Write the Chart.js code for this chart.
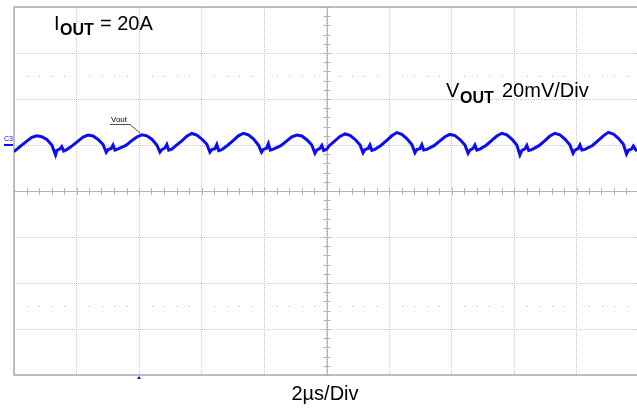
<!DOCTYPE html>
<html>
<head>
<meta charset="utf-8">
<script src="https://cdn.jsdelivr.net/npm/chart.js@4"></script>
<style>
  html, body { margin: 0; padding: 0; background: #fff; overflow: hidden; }
  #wrap { position: relative; width: 645px; height: 408px; }
</style>
</head>
<body>
<div id="wrap"><canvas id="scope"></canvas></div>
<script>
// scope screen: 10 div x 2us, 8 div x 20mV (trace ground marker at 0 mV)
const timeTicks = [0, 2, 4, 6, 8, 10, 12, 14, 16, 18, 20];
const voltTicks = [-100, -80, -60, -40, -20, 0, 20, 40, 60];

// Vout ripple (time in us, value in mV)
const timeUs = [
  0.00, 0.22, 0.41, 0.57, 0.73, 0.89, 1.05, 1.21, 1.33, 1.37, 1.47, 1.53, 1.59, 1.69,
  1.86, 2.05, 2.21, 2.37, 2.53, 2.69, 2.85, 2.95, 3.01, 3.11, 3.17, 3.23, 3.33,
  3.58, 3.77, 3.93, 4.09, 4.25, 4.41, 4.57, 4.67, 4.73, 4.83, 4.89, 4.95, 5.05,
  5.18, 5.37, 5.53, 5.69, 5.85, 6.01, 6.17, 6.27, 6.33, 6.43, 6.49, 6.55, 6.65,
  6.83, 7.02, 7.18, 7.34, 7.50, 7.66, 7.82, 7.92, 7.98, 8.08, 8.14, 8.20, 8.30,
  8.54, 8.73, 8.89, 9.05, 9.21, 9.37, 9.53, 9.63, 9.69, 9.79, 9.85, 9.91, 10.01,
  10.08, 10.27, 10.43, 10.59, 10.75, 10.91, 11.07, 11.17, 11.23, 11.33, 11.39, 11.45, 11.55,
  11.74, 11.93, 12.09, 12.25, 12.41, 12.57, 12.73, 12.83, 12.89, 12.99, 13.05, 13.11, 13.21,
  13.44, 13.63, 13.79, 13.95, 14.11, 14.27, 14.43, 14.53, 14.59, 14.69, 14.75, 14.81, 14.91,
  15.10, 15.29, 15.45, 15.61, 15.77, 15.93, 16.09, 16.19, 16.25, 16.35, 16.41, 16.47, 16.57,
  16.80, 16.99, 17.15, 17.31, 17.47, 17.63, 17.79, 17.89, 17.95, 18.05, 18.11, 18.17, 18.27,
  18.51, 18.70, 18.86, 19.02, 19.18, 19.34, 19.50, 19.60, 19.66, 19.76, 19.82, 19.90, 20.00
];
const voutMv = [
  -2.9, -0.4, 1.7, 3.3, 4.0, 3.6, 2.4, 0.0, -4.3, -2.4, -1.7, -0.7, -2.6, -2.0,
  -0.4, 1.7, 3.4, 4.3, 3.9, 2.4, 0.2, -3.2, -2.0, -1.5, 0.0, -2.2, -1.7,
  -0.2, 1.9, 3.5, 4.4, 4.0, 2.5, 0.0, -3.1, -2.0, -1.3, 0.2, -2.2, -1.8,
  -0.3, 1.8, 3.8, 5.0, 4.3, 2.6, 0.3, -3.1, -2.0, -1.6, 0.2, -2.4, -2.0,
  -0.2, 2.0, 4.0, 5.1, 4.4, 2.7, 0.0, -3.1, -1.9, -1.4, 0.6, -2.2, -1.8,
  -0.3, 1.8, 3.6, 4.3, 3.9, 2.3, 0.0, -3.6, -2.2, -1.5, -0.2, -2.4, -1.8,
  -0.4, 1.8, 3.7, 4.8, 4.2, 2.5, 0.1, -3.4, -2.0, -1.5, 0.0, -2.3, -1.9,
  -0.2, 2.0, 4.0, 5.4, 4.6, 2.8, 0.2, -3.4, -2.0, -1.6, 0.1, -2.2, -1.9,
  -0.3, 1.8, 3.6, 4.6, 4.1, 2.4, 0.0, -3.6, -2.2, -1.5, 0.0, -2.2, -1.8,
  -0.2, 2.0, 3.9, 5.1, 4.4, 2.6, 0.0, -4.3, -2.4, -1.7, -0.2, -2.4, -2.0,
  -0.3, 1.9, 3.9, 5.1, 4.4, 2.6, 0.0, -3.6, -2.2, -1.6, 0.0, -2.2, -1.9,
  -0.2, 2.0, 4.0, 5.5, 4.8, 2.9, 0.3, -3.9, -2.3, -1.8, -0.5, -2.2, -2.0
];

const centerTime = 10;   // middle of the screen
const centerVolt = -20;
const triggerTime = 4;
const dotRows = [30, -70];
const traceColor = "#0c0cf0";
const FONT = '"Liberation Sans", Arial, sans-serif';

// scope screen extras: solid centre axes with minor ticks, dot rows, frame
const scopeGrid = {
  id: "scopeGrid",
  beforeDatasetsDraw(chart) {
    const { ctx, chartArea: a, scales: { x, y } } = chart;
    const cx = x.getPixelForValue(centerTime);
    const cy = y.getPixelForValue(centerVolt);
    ctx.save();
    ctx.strokeStyle = "#b4b4b4";
    ctx.lineWidth = 1;
    ctx.beginPath();
    ctx.moveTo(Math.round(cx) + 0.5, a.top); ctx.lineTo(Math.round(cx) + 0.5, a.bottom);
    ctx.moveTo(a.left, Math.round(cy) + 0.5); ctx.lineTo(a.right, Math.round(cy) + 0.5);
    // minor ticks, 5 per division
    for (let v = voltTicks[0]; v <= voltTicks[voltTicks.length - 1]; v += 4) {
      const py = Math.round(y.getPixelForValue(v)) + 0.5;
      ctx.moveTo(cx - 3, py); ctx.lineTo(cx + 4, py);
    }
    for (let t = timeTicks[0]; t <= timeTicks[timeTicks.length - 1]; t += 0.4) {
      const px = Math.round(x.getPixelForValue(t)) + 0.5;
      ctx.moveTo(px, cy - 3); ctx.lineTo(px, cy + 4);
    }
    ctx.stroke();

    ctx.fillStyle = "#b8b8b8";
    dotRows.forEach(v => {
      const py = Math.round(y.getPixelForValue(v));
      for (let i = 1; i < 50; i++) {
        if (i % 5 === 0) continue;
        const px = Math.round(x.getPixelForValue(i * 0.4));
        ctx.fillRect(px, py, 1, 1);
      }
    });

    ctx.strokeStyle = "#adadad";
    ctx.lineWidth = 1.5;
    ctx.strokeRect(a.left, a.top, a.right - a.left, a.bottom - a.top);
    ctx.restore();
  },
  afterDraw(chart) {
    const { ctx, chartArea: a, scales: { x, y } } = chart;
    ctx.save();
    ctx.fillStyle = "#000";
    ctx.textBaseline = "alphabetic";
    // I_OUT = 20A
    ctx.font = "20px " + FONT;
    ctx.fillText("I", 54, 30);
    ctx.font = "bold 16px " + FONT;
    ctx.fillText("OUT", 60, 35);
    ctx.font = "20px " + FONT;
    ctx.fillText("= 20A", 100, 30);
    // V_OUT 20mV/Div
    ctx.fillText("V", 446, 97);
    ctx.font = "bold 16px " + FONT;
    ctx.fillText("OUT", 460, 103);
    ctx.font = "20px " + FONT;
    ctx.fillText("20mV/Div", 502, 97);
    // timebase
    ctx.textAlign = "center";
    ctx.fillText("2\u00b5s/Div", 325, 400);

    // trace label with leader
    ctx.textAlign = "left";
    ctx.font = "8px " + FONT;
    ctx.fillText("Vout", 111, 122);
    ctx.strokeStyle = "#222";
    ctx.lineWidth = 0.8;
    ctx.beginPath();
    ctx.moveTo(110, 124.5); ctx.lineTo(130, 124.5);
    ctx.lineTo(140, 133);
    ctx.stroke();

    // channel ground marker
    const gy = Math.round(y.getPixelForValue(0));
    ctx.fillStyle = traceColor;
    ctx.font = "7px " + FONT;
    ctx.fillText("C3", 4, 141);
    ctx.fillRect(4, gy - 1, 9, 2);

    // trigger marker
    const tx = x.getPixelForValue(triggerTime);
    ctx.beginPath();
    ctx.moveTo(tx, a.bottom + 1);
    ctx.lineTo(tx - 2, a.bottom + 4);
    ctx.lineTo(tx + 2, a.bottom + 4);
    ctx.closePath();
    ctx.fill();
    ctx.restore();
  }
};

new Chart(document.getElementById("scope"), {
  type: "line",
  data: {
    datasets: [{
      label: "Vout",
      data: timeUs.map((t, i) => ({ x: t, y: voutMv[i] })),
      borderColor: traceColor,
      borderWidth: 3,
      pointRadius: 0,
      tension: 0,
      fill: false
    }]
  },
  options: {
    responsive: true,
    maintainAspectRatio: false,
    animation: false,
    layout: { padding: { left: 14, top: 7, right: 6, bottom: 33 } },
    plugins: { legend: { display: false }, tooltip: { enabled: false } },
    scales: {
      x: {
        type: "linear",
        min: timeTicks[0],
        max: timeTicks[timeTicks.length - 1],
        afterBuildTicks: s => { s.ticks = timeTicks.map(v => ({ value: v })); },
        ticks: { display: false },
        grid: { color: "#c6c6c6", drawTicks: false },
        border: { display: false, dash: [1, 1] }
      },
      y: {
        type: "linear",
        min: voltTicks[0],
        max: voltTicks[voltTicks.length - 1],
        afterBuildTicks: s => { s.ticks = voltTicks.map(v => ({ value: v })); },
        ticks: { display: false },
        grid: { color: "#c6c6c6", drawTicks: false },
        border: { display: false, dash: [1, 1] }
      }
    }
  },
  plugins: [scopeGrid]
});
</script>
</body>
</html>
